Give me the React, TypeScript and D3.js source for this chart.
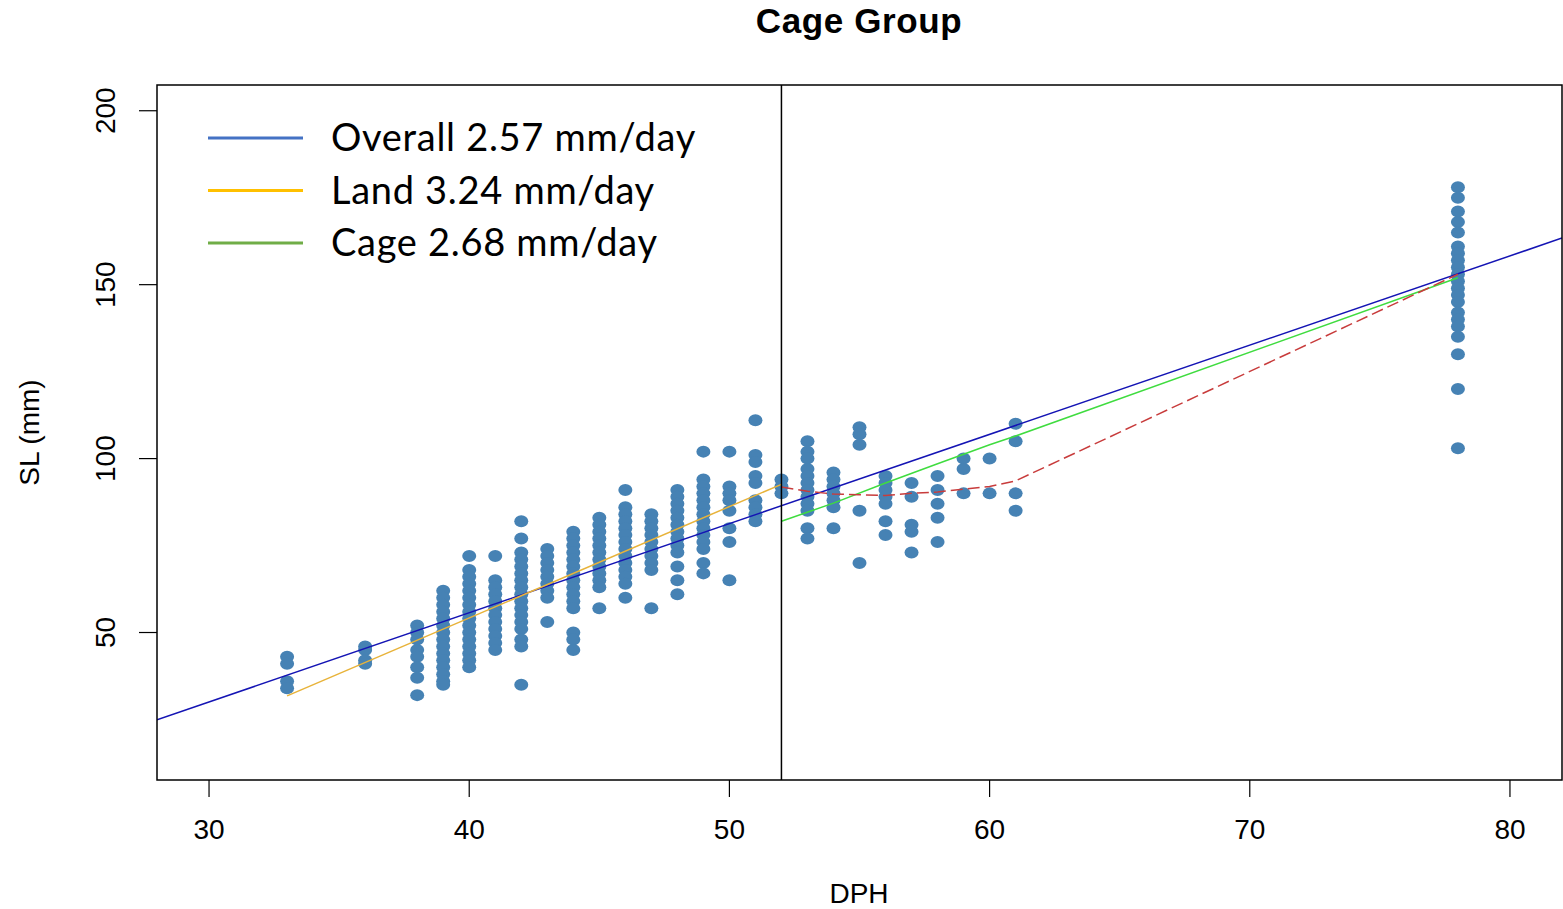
import React from "react";
import * as d3 from "d3";

const days = [33, 36, 38, 39, 40, 41, 42, 43, 44, 45, 46, 47, 48, 49, 50, 51, 52, 53, 54, 55, 56, 57, 58, 59, 60, 61, 78];
const lengths: number[][] = [
  [43, 41, 36, 34],
  [46, 45, 42, 41],
  [52, 50, 48, 45, 43, 40, 37, 32],
  [62, 60, 58, 56, 54, 52, 50, 48, 46, 44, 42, 40, 38, 36, 35],
  [72, 68, 66, 64, 62, 60, 58, 56, 54, 52, 50, 48, 46, 44, 42, 40],
  [72, 65, 63, 61, 59, 57, 55, 53, 51, 49, 47, 45],
  [82, 77, 73, 71, 69, 67, 65, 63, 61, 59, 57, 55, 53, 51, 48, 46, 35],
  [74, 72, 70, 68, 66, 64, 62, 60, 53],
  [79, 77, 75, 73, 71, 69, 67, 65, 63, 61, 59, 57, 50, 48, 45],
  [83, 81, 79, 77, 75, 73, 71, 69, 67, 65, 63, 57],
  [91, 86, 84, 82, 80, 78, 76, 74, 72, 70, 68, 66, 64, 60],
  [84, 82, 80, 78, 76, 74, 72, 70, 68, 57],
  [91, 89, 87, 85, 83, 81, 79, 77, 75, 73, 69, 65, 61],
  [102, 94, 92, 90, 88, 86, 84, 82, 80, 78, 76, 74, 70, 67],
  [102, 92, 90, 88, 85, 80, 76, 65],
  [111, 101, 99, 95, 93, 88, 86, 84, 82],
  [94, 92, 90],
  [105, 102, 100, 97, 95, 93, 91, 89, 87, 85, 80, 77],
  [96, 94, 92, 90, 88, 86, 80],
  [109, 107, 104, 85, 70],
  [95, 93, 91, 89, 87, 82, 78],
  [93, 89, 81, 79, 73],
  [95, 91, 87, 83, 76],
  [100, 97, 90],
  [100, 90],
  [110, 105, 90, 85],
  [178, 175, 171, 168, 165, 161, 159, 157, 155, 153, 151, 149, 147, 145, 142, 140, 138, 135, 130, 120, 103],
];

const overallLine = [[28, 24.9], [82, 163.4]];
const landLine = [[33, 31.8], [52, 92.6]];
const cageLine = [[52, 82], [54, 87.2], [56, 93], [58, 98.5], [60, 104], [61, 106.5], [78, 152]];
const loessLine = [[52, 91.8], [53, 90.6], [54, 89.8], [55, 89.6], [56, 89.4], [57, 90], [58, 90.4], [59, 91.2], [60, 92], [61, 93.6], [78, 153]];

const xTicks = [30, 40, 50, 60, 70, 80];
const yTicks = [50, 100, 150, 200];
const cutDay = 52;

const legendItems = [
  { label: "Overall 2.57 mm/day", color: "#4472C4" },
  { label: "Land 3.24 mm/day", color: "#FFC000" },
  { label: "Cage 2.68 mm/day", color: "#70AD47" },
];

export default function App() {
  const W = 1563, H = 909;
  const L = 157, R = 1562, T = 85, B = 780;
  const x = d3.scaleLinear().domain([28, 82]).range([L, R]);
  const y = d3.scaleLinear().domain([7.6, 207.4]).range([B, T]);
  const line = d3.line<number[]>().x((d) => x(d[0])).y((d) => y(d[1]));

  const pts: { d: number; v: number }[] = [];
  days.forEach((d, i) => lengths[i].forEach((v) => pts.push({ d, v })));

  const axisFont = "'Liberation Sans', Arial, sans-serif";

  return (
    <svg width={W} height={H} style={{ position: "absolute", left: 0, top: 0, background: "#fff" }}>
      <defs>
        <clipPath id="plotclip">
          <rect x={L} y={T} width={R - L} height={B - T} />
        </clipPath>
      </defs>
      <text x={859} y={33} textAnchor="middle" fontFamily={axisFont} fontWeight="bold" fontSize={35} letterSpacing={0.6}>
        Cage Group
      </text>
      <g clipPath="url(#plotclip)">
        {pts.map((p, i) => (
          <ellipse key={i} cx={x(p.d)} cy={y(p.v)} rx={7} ry={6} fill="#4682B4" />
        ))}
        <path d={line(overallLine as any) || ""} fill="none" stroke="#1414b4" strokeWidth={1.5} />
        <path d={line(landLine as any) || ""} fill="none" stroke="#e8b33a" strokeWidth={1.5} />
        <path d={line(cageLine as any) || ""} fill="none" stroke="#3fdc3f" strokeWidth={1.5} />
        <path d={line(loessLine as any) || ""} fill="none" stroke="#c83c3c" strokeWidth={1.5} strokeDasharray="12,5" />
        <line x1={x(cutDay)} x2={x(cutDay)} y1={T} y2={B} stroke="#000" strokeWidth={1.5} />
      </g>
      <rect x={L} y={T} width={R - L} height={B - T} fill="none" stroke="#000" strokeWidth={1.5} />
      {xTicks.map((t) => (
        <g key={t}>
          <line x1={x(t)} x2={x(t)} y1={B} y2={B + 17} stroke="#000" strokeWidth={1.2} />
          <text x={x(t)} y={839} textAnchor="middle" fontFamily={axisFont} fontSize={28}>
            {t}
          </text>
        </g>
      ))}
      {yTicks.map((t) => (
        <g key={t}>
          <line x1={L} x2={L - 18} y1={y(t)} y2={y(t)} stroke="#000" strokeWidth={1.2} />
          <text transform={`translate(115,${y(t)}) rotate(-90)`} textAnchor="middle" fontFamily={axisFont} fontSize={28}>
            {t}
          </text>
        </g>
      ))}
      <text x={859} y={903} textAnchor="middle" fontFamily={axisFont} fontSize={28}>
        DPH
      </text>
      <text transform={`translate(39,${(T + B) / 2}) rotate(-90)`} textAnchor="middle" fontFamily={axisFont} fontSize={28}>
        SL (mm)
      </text>
      {legendItems.map((it, i) => (
        <g key={it.label}>
          <line x1={208} x2={303} y1={138 + i * 52.5} y2={138 + i * 52.5} stroke={it.color} strokeWidth={3} />
          <text x={331} y={151 + i * 52.5} fontFamily="Lato, 'Open Sans', sans-serif" fontSize={38} letterSpacing={0.7}>
            {it.label}
          </text>
        </g>
      ))}
    </svg>
  );
}
